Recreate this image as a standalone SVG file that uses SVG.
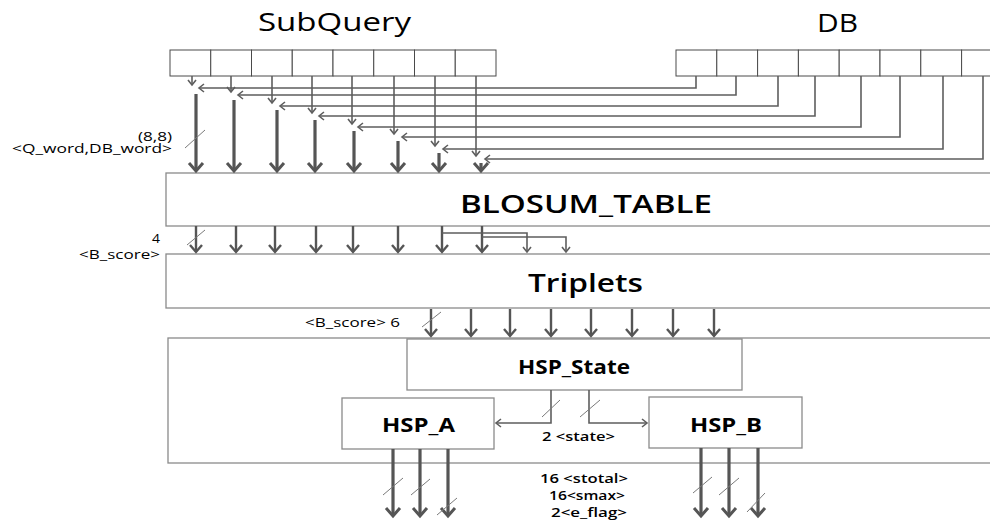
<svg xmlns="http://www.w3.org/2000/svg" width="990" height="524" viewBox="0 0 990 524">
<style>
.box{fill:#fff;stroke:#8a8a8a;stroke-width:1.3}
.cell{fill:#fff;stroke:#4a4a4a;stroke-width:1}
.thin{fill:none;stroke:#5e5e5e;stroke-width:1.6}
.med{fill:none;stroke:#555;stroke-width:2.4}
.thick{fill:none;stroke:#555;stroke-width:3.2}
.sl{fill:none;stroke:#7a7a7a;stroke-width:1}
text{font-family:"Open Sans","Liberation Sans",sans-serif;fill:#000}
.title{font-size:25px}
.big{font-size:25px;font-weight:600}
.hsp{font-size:20px;font-weight:700}
.lbl{font-size:13px}
.lblb{font-size:12px;font-weight:600}
</style>
<defs>
<marker id="aT" markerUnits="userSpaceOnUse" markerWidth="20" markerHeight="20" viewBox="-10 -10 20 20" refX="0" refY="0" orient="auto" overflow="visible">
<path d="M-8,-7 L0,0 L-8,7" fill="none" stroke="#555" stroke-width="3"/>
</marker>
<marker id="aM" markerUnits="userSpaceOnUse" markerWidth="20" markerHeight="20" viewBox="-10 -10 20 20" refX="0" refY="0" orient="auto" overflow="visible">
<path d="M-7,-6 L0,0 L-7,6" fill="none" stroke="#555" stroke-width="2.4"/>
</marker>
<marker id="aS" markerUnits="userSpaceOnUse" markerWidth="20" markerHeight="20" viewBox="-10 -10 20 20" refX="0" refY="0" orient="auto" overflow="visible">
<path d="M-5,-4 L0,0 L-5,4" fill="none" stroke="#5e5e5e" stroke-width="1.6"/>
</marker>
</defs>
<rect width="990" height="524" fill="#fff"/>

<g id="subquery">
<text class="title" x="258" y="31" textLength="153" lengthAdjust="spacingAndGlyphs">SubQuery</text>
<rect class="cell" x="170" y="50" width="40.75" height="26"/>
<rect class="cell" x="210.75" y="50" width="40.75" height="26"/>
<rect class="cell" x="251.5" y="50" width="40.75" height="26"/>
<rect class="cell" x="292.25" y="50" width="40.75" height="26"/>
<rect class="cell" x="333" y="50" width="40.75" height="26"/>
<rect class="cell" x="373.75" y="50" width="40.75" height="26"/>
<rect class="cell" x="414.5" y="50" width="40.75" height="26"/>
<rect class="cell" x="455.25" y="50" width="40.75" height="26"/>
</g>

<g id="db">
<text class="title" x="817" y="32" textLength="41" lengthAdjust="spacingAndGlyphs">DB</text>
<rect class="cell" x="676" y="50" width="40.8" height="26"/>
<rect class="cell" x="716.8" y="50" width="40.8" height="26"/>
<rect class="cell" x="757.6" y="50" width="40.8" height="26"/>
<rect class="cell" x="798.4" y="50" width="40.8" height="26"/>
<rect class="cell" x="839.2" y="50" width="40.8" height="26"/>
<rect class="cell" x="880" y="50" width="40.8" height="26"/>
<rect class="cell" x="920.8" y="50" width="40.8" height="26"/>
<rect class="cell" x="961.6" y="50" width="40.8" height="26"/>
</g>

<g id="blosum">
<rect class="box" x="166" y="173" width="840" height="53"/>
<text class="big" x="460" y="213" textLength="252" lengthAdjust="spacingAndGlyphs">BLOSUM_TABLE</text>
</g>

<g id="triplets">
<rect class="box" x="166" y="254" width="840" height="54"/>
<text class="big" x="528" y="292" textLength="115" lengthAdjust="spacingAndGlyphs">Triplets</text>
</g>

<g id="hsp-unit">
<rect class="box" x="168" y="338" width="840" height="125"/>
</g>

<g id="hsp-state">
<rect class="box" x="407" y="339" width="335" height="51"/>
<text class="hsp" x="518" y="374" textLength="112" lengthAdjust="spacingAndGlyphs">HSP_State</text>
</g>

<g id="hsp-a">
<rect class="box" x="342" y="398" width="152" height="51"/>
<text class="hsp" x="382" y="432" textLength="73" lengthAdjust="spacingAndGlyphs">HSP_A</text>
</g>

<g id="hsp-b">
<rect class="box" x="649" y="397" width="153" height="51"/>
<text class="hsp" x="690" y="432" textLength="72" lengthAdjust="spacingAndGlyphs">HSP_B</text>
</g>

<g id="connectors">
<path class="thin" marker-end="url(#aS)" d="M192,76 V85"/>
<path class="thin" marker-end="url(#aS)" d="M231,76 V92"/>
<path class="thin" marker-end="url(#aS)" d="M272,76 V103"/>
<path class="thin" marker-end="url(#aS)" d="M312,76 V113"/>
<path class="thin" marker-end="url(#aS)" d="M352,76 V124"/>
<path class="thin" marker-end="url(#aS)" d="M394,76 V134"/>
<path class="thin" marker-end="url(#aS)" d="M435,76 V146"/>
<path class="thin" marker-end="url(#aS)" d="M476,76 V156"/>
<path class="thin" marker-end="url(#aS)" d="M696,76 V88 H199"/>
<path class="thin" marker-end="url(#aS)" d="M736,76 V95 H238"/>
<path class="thin" marker-end="url(#aS)" d="M778,76 V106 H280"/>
<path class="thin" marker-end="url(#aS)" d="M815,76 V116 H319"/>
<path class="thin" marker-end="url(#aS)" d="M861,76 V127 H358"/>
<path class="thin" marker-end="url(#aS)" d="M900,76 V137 H402"/>
<path class="thin" marker-end="url(#aS)" d="M943,76 V149 H443"/>
<path class="thin" marker-end="url(#aS)" d="M983,76 V159 H485"/>
<path class="thick" marker-end="url(#aT)" d="M196,94 V171"/>
<path class="thick" marker-end="url(#aT)" d="M234,100 V171"/>
<path class="thick" marker-end="url(#aT)" d="M277,110 V171"/>
<path class="thick" marker-end="url(#aT)" d="M315,120 V171"/>
<path class="thick" marker-end="url(#aT)" d="M354,131 V171"/>
<path class="thick" marker-end="url(#aT)" d="M398,141 V171"/>
<path class="thick" marker-end="url(#aT)" d="M439,153 V171"/>
<path class="thick" marker-end="url(#aT)" d="M481,163 V171"/>
<line class="sl" x1="185" y1="148" x2="205" y2="130"/>
<path class="med" marker-end="url(#aM)" d="M196,226 V252"/>
<path class="med" marker-end="url(#aM)" d="M236,226 V252"/>
<path class="med" marker-end="url(#aM)" d="M275,226 V252"/>
<path class="med" marker-end="url(#aM)" d="M316,226 V252"/>
<path class="med" marker-end="url(#aM)" d="M353,226 V252"/>
<path class="med" marker-end="url(#aM)" d="M398,226 V252"/>
<path class="med" marker-end="url(#aM)" d="M442,226 V252"/>
<path class="med" marker-end="url(#aM)" d="M482,226 V252"/>
<path class="thin" marker-end="url(#aS)" d="M442,233 H527 V252"/>
<path class="thin" marker-end="url(#aS)" d="M482,237 H566 V252"/>
<line class="sl" x1="187" y1="245" x2="205" y2="230"/>
<path class="med" marker-end="url(#aM)" d="M431,309 V336"/>
<path class="med" marker-end="url(#aM)" d="M471,309 V336"/>
<path class="med" marker-end="url(#aM)" d="M510,309 V336"/>
<path class="med" marker-end="url(#aM)" d="M551,309 V336"/>
<path class="med" marker-end="url(#aM)" d="M591,309 V336"/>
<path class="med" marker-end="url(#aM)" d="M632,309 V336"/>
<path class="med" marker-end="url(#aM)" d="M673,309 V336"/>
<path class="med" marker-end="url(#aM)" d="M714,309 V336"/>
<line class="sl" x1="422" y1="327" x2="441" y2="312"/>
<path class="thin" marker-end="url(#aS)" d="M551,390 V423 H496"/>
<path class="thin" marker-end="url(#aS)" d="M589,390 V423 H647"/>
<line class="sl" x1="542" y1="417" x2="560" y2="400"/>
<line class="sl" x1="580" y1="417" x2="600" y2="400"/>
<path class="thick" marker-end="url(#aT)" d="M393,449 V516"/>
<path class="thick" marker-end="url(#aT)" d="M420,449 V516"/>
<path class="thick" marker-end="url(#aT)" d="M448,449 V516"/>
<path class="thick" marker-end="url(#aT)" d="M701,448 V516"/>
<path class="thick" marker-end="url(#aT)" d="M729,448 V516"/>
<path class="thick" marker-end="url(#aT)" d="M758,448 V516"/>
<line class="sl" x1="383" y1="495" x2="403" y2="478"/>
<line class="sl" x1="411" y1="495" x2="430" y2="479"/>
<line class="sl" x1="437" y1="515" x2="457" y2="498"/>
<line class="sl" x1="693" y1="493" x2="712" y2="477"/>
<line class="sl" x1="719" y1="495" x2="739" y2="478"/>
<line class="sl" x1="747" y1="512" x2="765" y2="493"/>
</g>

<g id="labels">
<text class="lbl" x="138" y="141" textLength="34" lengthAdjust="spacingAndGlyphs">(8,8)</text>
<text class="lbl" x="12" y="153" textLength="160" lengthAdjust="spacingAndGlyphs">&lt;Q_word,DB_word&gt;</text>
<text class="lbl" x="152" y="243" textLength="8" lengthAdjust="spacingAndGlyphs">4</text>
<text class="lbl" x="79" y="259" textLength="81" lengthAdjust="spacingAndGlyphs">&lt;B_score&gt;</text>
<text class="lbl" x="305" y="327" textLength="95" lengthAdjust="spacingAndGlyphs">&lt;B_score&gt; 6</text>
<text class="lblb" x="542" y="441" textLength="73" lengthAdjust="spacingAndGlyphs">2 &lt;state&gt;</text>
<text class="lblb" x="540" y="483" textLength="88" lengthAdjust="spacingAndGlyphs">16 &lt;stotal&gt;</text>
<text class="lblb" x="549" y="500" textLength="76" lengthAdjust="spacingAndGlyphs">16&lt;smax&gt;</text>
<text class="lblb" x="551" y="517" textLength="76" lengthAdjust="spacingAndGlyphs">2&lt;e_flag&gt;</text>
</g>
</svg>
